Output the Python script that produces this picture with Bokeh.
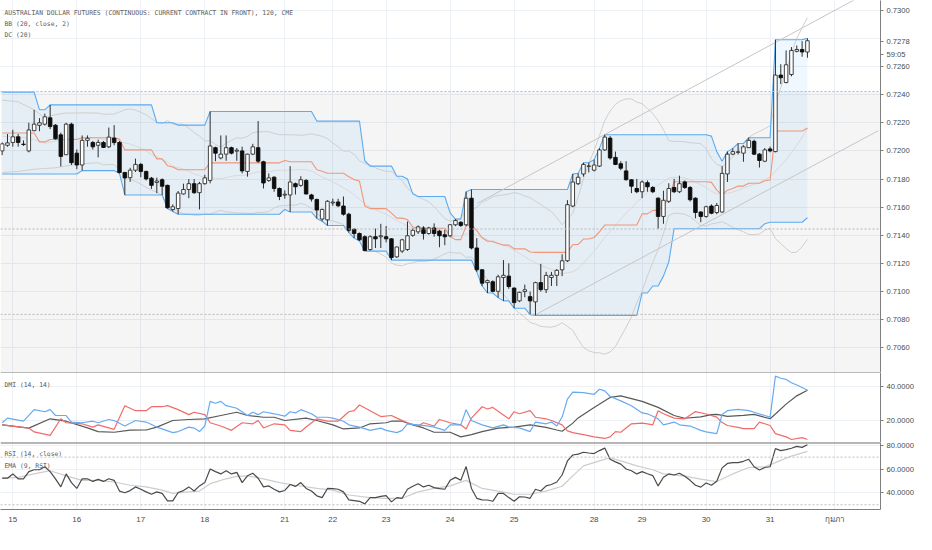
import numpy as np
import pandas as pd
from bokeh.plotting import figure
from bokeh.layouts import column
from bokeh.models import (Range1d, FixedTicker, Span, Label, PrintfTickFormatter,
                          ColumnDataSource, BoxAnnotation)
from bokeh.embed import file_html
from bokeh.resources import INLINE

# ---------------- data (2h bars) ----------------
opens = [0.72000, 0.72040, 0.72060, 0.72100, 0.72048, 0.72000, 0.72144, 0.72182, 0.72190, 0.72235,
         0.72183, 0.72114, 0.71973, 0.72190, 0.71984, 0.71900, 0.72075, 0.72060, 0.72040, 0.72060,
         0.72029, 0.72091, 0.72060, 0.71847, 0.71810, 0.71863, 0.71904, 0.71854, 0.71806, 0.71776,
         0.71795, 0.71755, 0.71584, 0.71590, 0.71694, 0.71726, 0.71767, 0.71703, 0.71767, 0.71790,
         0.72023, 0.71950, 0.71977, 0.72023, 0.71998, 0.72000, 0.71854, 0.71977, 0.72023, 0.71923,
         0.71790, 0.71813, 0.71733, 0.71686, 0.71687, 0.71767, 0.71755, 0.71790, 0.71687, 0.71655,
         0.71516, 0.71510, 0.71630, 0.71637, 0.71608, 0.71550, 0.71443, 0.71413, 0.71390, 0.71299,
         0.71390, 0.71390, 0.71390, 0.71375, 0.71247, 0.71288, 0.71299, 0.71400, 0.71425, 0.71452,
         0.71413, 0.71452, 0.71430, 0.71404, 0.71397, 0.71475, 0.71493, 0.71475, 0.71664, 0.71310,
         0.71155, 0.71064, 0.71070, 0.71002, 0.71100, 0.71110, 0.71025, 0.70934, 0.71000, 0.70964,
         0.70927, 0.71064, 0.71014, 0.71100, 0.71116, 0.71155, 0.71219, 0.71608, 0.71767, 0.71836,
         0.71890, 0.71863, 0.71892, 0.72007, 0.72091, 0.71954, 0.71909, 0.71858, 0.71795, 0.71733,
         0.71710, 0.71774, 0.71740, 0.71664, 0.71534, 0.71642, 0.71740, 0.71710, 0.71779, 0.71740,
         0.71664, 0.71566, 0.71534, 0.71608, 0.71562, 0.71566, 0.71836, 0.71977, 0.71990, 0.71984,
         0.72023, 0.72068, 0.71977, 0.71927, 0.72014, 0.71995, 0.72539, 0.72486, 0.72543, 0.72708,
         0.72721, 0.72703]
highs = [0.72060, 0.72120, 0.72150, 0.72120, 0.72075, 0.72200, 0.72292, 0.72233, 0.72265, 0.72327,
         0.72190, 0.72130, 0.72200, 0.72200, 0.72010, 0.72110, 0.72110, 0.72070, 0.72080, 0.72070,
         0.72166, 0.72183, 0.72070, 0.71850, 0.71880, 0.71945, 0.71915, 0.71860, 0.71815, 0.71810,
         0.71805, 0.71760, 0.71620, 0.71715, 0.71767, 0.71800, 0.71800, 0.71780, 0.71830, 0.72280,
         0.72030, 0.72110, 0.72110, 0.72030, 0.72020, 0.72030, 0.71980, 0.72050, 0.72212, 0.71930,
         0.71840, 0.71820, 0.71740, 0.71720, 0.71892, 0.71775, 0.71820, 0.71800, 0.71695, 0.71660,
         0.71590, 0.71650, 0.71660, 0.71660, 0.71676, 0.71560, 0.71450, 0.71420, 0.71400, 0.71400,
         0.71448, 0.71482, 0.71466, 0.71380, 0.71320, 0.71375, 0.71498, 0.71450, 0.71470, 0.71465,
         0.71460, 0.71485, 0.71440, 0.71440, 0.71480, 0.71515, 0.71500, 0.71710, 0.71726, 0.71380,
         0.71160, 0.71085, 0.71080, 0.71120, 0.71224, 0.71201, 0.71030, 0.71000, 0.71050, 0.71000,
         0.71070, 0.71197, 0.71140, 0.71140, 0.71160, 0.71265, 0.71650, 0.71836, 0.71840, 0.71916,
         0.71916, 0.71938, 0.72018, 0.72115, 0.72105, 0.71995, 0.71927, 0.71927, 0.71800, 0.71801,
         0.71790, 0.71790, 0.71750, 0.71670, 0.71717, 0.71770, 0.71801, 0.71824, 0.71790, 0.71750,
         0.71670, 0.71570, 0.71610, 0.71620, 0.71630, 0.71892, 0.71995, 0.72018, 0.72053, 0.72040,
         0.72094, 0.72080, 0.71985, 0.72020, 0.72030, 0.72790, 0.72616, 0.72714, 0.72738, 0.72749,
         0.72780, 0.72800]
lows = [0.71970, 0.72030, 0.72030, 0.72030, 0.72036, 0.71990, 0.72140, 0.72140, 0.72180, 0.72155,
        0.72080, 0.71890, 0.71970, 0.71900, 0.71870, 0.71860, 0.72030, 0.72010, 0.71954, 0.72020,
        0.72020, 0.72040, 0.71840, 0.71687, 0.71780, 0.71850, 0.71813, 0.71790, 0.71730, 0.71700,
        0.71687, 0.71590, 0.71570, 0.71550, 0.71690, 0.71664, 0.71695, 0.71584, 0.71760, 0.71770,
        0.71927, 0.71940, 0.71930, 0.71975, 0.71930, 0.71840, 0.71817, 0.71970, 0.71915, 0.71733,
        0.71780, 0.71710, 0.71650, 0.71660, 0.71566, 0.71690, 0.71745, 0.71690, 0.71640, 0.71520,
        0.71500, 0.71470, 0.71610, 0.71600, 0.71540, 0.71420, 0.71380, 0.71360, 0.71288, 0.71290,
        0.71310, 0.71310, 0.71350, 0.71224, 0.71240, 0.71275, 0.71290, 0.71390, 0.71410, 0.71370,
        0.71405, 0.71390, 0.71315, 0.71330, 0.71390, 0.71465, 0.71460, 0.71465, 0.71300, 0.71140,
        0.71040, 0.70990, 0.70995, 0.70957, 0.70934, 0.71020, 0.70882, 0.70925, 0.70960, 0.70836,
        0.70831, 0.71000, 0.70990, 0.71040, 0.71040, 0.71110, 0.71210, 0.71600, 0.71757, 0.71817,
        0.71847, 0.71854, 0.71886, 0.72000, 0.71938, 0.71899, 0.71863, 0.71790, 0.71700, 0.71699,
        0.71664, 0.71710, 0.71700, 0.71447, 0.71482, 0.71630, 0.71700, 0.71700, 0.71730, 0.71640,
        0.71521, 0.71493, 0.71525, 0.71550, 0.71550, 0.71560, 0.71779, 0.71970, 0.71975, 0.71923,
        0.72020, 0.71970, 0.71882, 0.71920, 0.71990, 0.71990, 0.72475, 0.72480, 0.72530, 0.72700,
        0.72669, 0.72662]
closes = [0.72050, 0.72057, 0.72100, 0.72060, 0.72045, 0.72149, 0.72190, 0.72200, 0.72242, 0.72173,
          0.72087, 0.71961, 0.72190, 0.71916, 0.71900, 0.72075, 0.72090, 0.72029, 0.72060, 0.72025,
          0.72098, 0.72059, 0.71847, 0.71808, 0.71863, 0.71904, 0.71854, 0.71801, 0.71755, 0.71786,
          0.71749, 0.71596, 0.71603, 0.71700, 0.71726, 0.71767, 0.71703, 0.71767, 0.71808, 0.72035,
          0.71984, 0.71977, 0.72023, 0.71984, 0.72005, 0.71858, 0.71977, 0.72029, 0.71927, 0.71772,
          0.71808, 0.71733, 0.71676, 0.71692, 0.71779, 0.71745, 0.71795, 0.71694, 0.71658, 0.71580,
          0.71584, 0.71642, 0.71636, 0.71610, 0.71550, 0.71436, 0.71413, 0.71368, 0.71292, 0.71390,
          0.71375, 0.71397, 0.71375, 0.71242, 0.71317, 0.71368, 0.71397, 0.71436, 0.71460, 0.71413,
          0.71452, 0.71413, 0.71397, 0.71390, 0.71475, 0.71505, 0.71470, 0.71664, 0.71310, 0.71155,
          0.71060, 0.71078, 0.71002, 0.71105, 0.71116, 0.71036, 0.70922, 0.70995, 0.71013, 0.70934,
          0.71064, 0.71014, 0.71115, 0.71116, 0.71151, 0.71219, 0.71618, 0.71779, 0.71813, 0.71904,
          0.71893, 0.71899, 0.72007, 0.72098, 0.71950, 0.71904, 0.71877, 0.71795, 0.71749, 0.71710,
          0.71779, 0.71745, 0.71710, 0.71534, 0.71649, 0.71733, 0.71710, 0.71767, 0.71740, 0.71653,
          0.71562, 0.71534, 0.71603, 0.71557, 0.71612, 0.71840, 0.71977, 0.71995, 0.71993, 0.72029,
          0.72075, 0.71977, 0.71932, 0.72007, 0.72000, 0.72539, 0.72520, 0.72612, 0.72714, 0.72721,
          0.72703, 0.72783]

# indicator values carried in from bars before the visible window
dc_up_warm = [0.72418, 0.72418, 0.72418, 0.72418, 0.72418, 0.72418, 0.72418]
dc_lo_warm = [0.71836, 0.71836, 0.71836, 0.71836, 0.71836, 0.71836, 0.71836, 0.71836,
              0.71836, 0.71836, 0.71836, 0.71836, 0.71836, 0.71836, 0.71836]
bb_warm_bars = [0, 3, 6, 8, 10, 12, 15, 18]
bb_up_warm = [0.72361, 0.72349, 0.72292, 0.72235, 0.72258, 0.72269, 0.72270, 0.72269]
bb_lo_warm = [0.71847, 0.71854, 0.71870, 0.71875, 0.71880, 0.71893, 0.71909, 0.71916]
bb_mid_warm = [0.72104, 0.72102, 0.72081, 0.72055, 0.72069, 0.72081, 0.72090, 0.72093]

# DMI (14,14)
pdi_bars = [0, 1, 4, 6, 8, 9, 10, 12, 13, 15, 17, 18, 20, 21, 23, 25, 27, 29, 32, 33, 35, 36, 37, 38, 39,
            40, 41, 42, 44, 46, 47, 48, 49, 51, 53, 54, 55, 56, 58, 59, 61, 62, 64, 65, 67, 69, 71, 72, 74,
            75, 76, 78, 80, 81, 83, 84, 86, 87, 88, 90, 92, 94, 95, 97, 99, 100, 102, 103, 104, 105, 106,
            107, 109, 111, 112, 113, 114, 116, 118, 120, 121, 123, 124, 126, 127, 129, 131, 132, 134, 135,
            136, 138, 140, 141, 143, 144, 145, 146, 147, 148, 149, 150, 151]
pdi_vals = [18.7, 21.4, 19.6, 26.3, 25.1, 26.3, 22.9, 22.9, 19.1, 18.7, 19.6, 18.7, 20.6, 20.0, 16.8, 20.0,
            19.1, 16.2, 13.0, 13.6, 16.2, 15.6, 13.6, 16.8, 31.1, 30.0, 31.1, 28.6, 27.1, 22.9, 24.8, 23.4,
            25.1, 23.9, 22.5, 25.1, 24.4, 26.3, 23.9, 21.9, 21.9, 21.4, 19.6, 17.5, 16.2, 14.3, 15.6, 14.3,
            13.0, 14.3, 18.1, 17.5, 16.8, 16.2, 14.3, 17.5, 17.5, 26.3, 20.0, 17.5, 15.7, 17.5, 16.2, 15.7,
            13.6, 19.1, 18.1, 19.1, 16.8, 22.0, 32.4, 36.4, 36.2, 35.2, 38.1, 37.2, 33.9, 31.4, 28.6, 24.4,
            23.9, 21.0, 17.5, 19.1, 17.5, 16.8, 14.3, 13.4, 12.4, 23.5, 25.7, 26.5, 25.7, 24.8, 22.9, 22.0,
            45.7, 44.5, 43.8, 41.9, 40.6, 39.1, 37.5]
mdi_bars = [0, 2, 5, 6, 9, 11, 12, 15, 17, 18, 21, 23, 25, 27, 28, 30, 31, 33, 35, 36, 38, 39, 41, 43, 45,
            47, 48, 49, 51, 53, 54, 56, 57, 59, 61, 63, 65, 66, 67, 69, 71, 73, 74, 76, 78, 79, 81, 82, 84,
            86, 87, 88, 90, 91, 92, 95, 96, 97, 99, 100, 102, 103, 105, 106, 107, 109, 111, 113, 114, 115,
            116, 118, 120, 121, 122, 123, 124, 126, 128, 130, 132, 134, 135, 136, 138, 139, 141, 142, 143,
            144, 145, 147, 148, 150, 151]
mdi_vals = [17.5, 16.8, 15.6, 13.4, 11.4, 21.0, 18.7, 18.1, 16.2, 17.5, 14.9, 28.6, 25.7, 25.7, 28.0, 28.0,
            28.6, 26.3, 23.4, 24.8, 23.4, 18.7, 16.8, 14.3, 18.7, 18.1, 20.0, 15.7, 18.1, 17.5, 14.3, 13.6,
            16.2, 21.0, 19.6, 19.6, 25.1, 25.7, 29.0, 25.7, 22.3, 22.9, 21.4, 18.7, 16.8, 18.7, 16.8, 20.6,
            18.7, 17.5, 15.1, 21.4, 28.0, 26.7, 27.6, 21.0, 25.1, 23.9, 25.7, 21.9, 21.0, 20.0, 17.5, 14.0,
            13.0, 11.8, 10.5, 9.6, 10.5, 13.6, 13.2, 18.1, 18.5, 18.1, 17.5, 25.7, 23.9, 21.4, 21.0, 25.2,
            23.8, 22.0, 18.8, 17.1, 16.0, 15.3, 15.3, 19.1, 18.1, 17.1, 12.4, 10.5, 9.0, 10.1, 9.0]
adx_bars = [0, 5, 9, 12, 16, 18, 21, 24, 27, 29, 32, 35, 38, 41, 44, 46, 49, 51, 53, 57, 59, 62, 64, 67, 69,
            72, 73, 75, 77, 79, 81, 84, 86, 88, 90, 93, 96, 99, 102, 104, 105, 107, 108, 111, 114, 116,
            120, 123, 126, 128, 131, 133, 134, 136, 139, 141, 144, 145, 147, 149, 151]
adx_vals = [17.5, 15.6, 21.0, 19.6, 15.7, 13.6, 13.2, 14.4, 14.5, 16.2, 20.0, 20.6, 21.0, 22.9, 24.8, 22.9,
            21.9, 21.9, 20.0, 21.4, 20.0, 17.5, 15.1, 15.7, 18.1, 18.7, 19.6, 19.6, 17.5, 15.7, 13.2, 13.2,
            10.5, 11.8, 13.6, 15.6, 16.2, 17.5, 16.0, 14.5, 13.8, 18.5, 21.5, 27.6, 33.4, 34.3, 31.1, 27.6,
            22.9, 21.3, 22.1, 23.4, 23.6, 22.4, 23.0, 23.6, 21.0, 23.8, 29.5, 34.3, 37.5]

# RSI (14, close), one value per bar
rsi_vals = [52.3, 52.3, 55.9, 51.8, 51.8, 57.8, 59.4, 59.4, 61.9, 57.8, 51.8, 45.0, 55.9, 48.6, 43.7, 51.8,
            51.8, 49.6, 51.3, 49.6, 51.8, 50.5, 41.5, 40.1, 41.9, 45.0, 43.0, 40.8, 38.8, 40.8, 39.5, 33.3,
            33.3, 40.3, 41.9, 45.0, 41.5, 45.8, 48.6, 60.0, 57.8, 55.9, 58.6, 55.9, 57.2, 48.6, 54.3, 56.5,
            52.3, 45.0, 45.8, 43.0, 40.8, 42.0, 47.0, 45.4, 48.6, 43.7, 41.5, 37.5, 36.0, 43.7, 43.5, 43.0,
            40.8, 34.1, 33.5, 32.9, 30.7, 36.0, 36.0, 37.0, 37.7, 32.4, 36.0, 35.4, 43.0, 45.5, 47.7, 45.0,
            46.4, 44.4, 43.5, 43.0, 50.5, 53.0, 50.5, 62.1, 43.7, 35.4, 34.1, 34.0, 32.9, 39.5, 39.5, 36.0,
            32.9, 36.7, 36.5, 35.4, 43.0, 41.5, 45.8, 47.0, 49.1, 55.0, 66.8, 71.8, 72.5, 74.1, 73.5, 73.0,
            75.5, 77.6, 68.2, 66.0, 64.1, 60.0, 58.6, 55.9, 57.8, 56.0, 54.5, 45.8, 53.1, 55.9, 55.0, 56.5,
            54.0, 50.5, 46.4, 44.8, 48.3, 46.4, 49.8, 61.0, 64.7, 65.4, 65.4, 66.5, 68.2, 61.9, 59.2, 61.3,
            61.9, 77.1, 75.5, 76.3, 77.5, 79.0, 78.2, 80.4]
# EMA (9, RSI)
ema_bars = [0, 3, 6, 9, 12, 15, 18, 21, 24, 27, 30, 32, 35, 37, 39, 42, 44, 46, 49, 52, 55, 59, 62, 65, 69,
            72, 75, 78, 81, 84, 87, 90, 93, 96, 99, 102, 105, 107, 109, 112, 114, 116, 119, 122, 124, 128,
            131, 134, 137, 140, 143, 145, 148, 151]
ema_vals = [52.3, 53.0, 55.9, 58.6, 54.3, 50.5, 50.5, 49.1, 46.4, 45.0, 42.3, 39.5, 40.8, 41.5, 47.7, 51.8,
            53.9, 54.3, 51.8, 48.6, 46.4, 43.7, 42.3, 38.2, 36.0, 35.4, 35.4, 40.8, 43.7, 45.8, 50.5, 43.7,
            41.5, 38.8, 38.8, 41.5, 45.5, 54.3, 62.7, 66.8, 69.5, 66.8, 62.7, 59.4, 55.9, 54.0, 51.5, 49.5,
            55.9, 61.3, 61.9, 65.4, 70.9, 74.9]

# drawings
level_prices = [0.72422, 0.71445, 0.70838]
trend_a_bars = [89.1, 164.3]
trend_a_prices = [0.71627, 0.73166]
trend_b_bars = [99.8, 164.3]
trend_b_prices = [0.70831, 0.72144]

# axes
day_tick_bars = [2, 14, 26, 38, 53, 62, 72, 84, 96, 111, 120, 132, 144, 156]
day_labels = ["15", "16", "17", "18", "21", "22", "23", "24", "25", "28", "29", "30", "31", "กุมภา"]
price_grid = [0.7060, 0.7080, 0.7100, 0.7120, 0.7140, 0.7160, 0.7180, 0.7200, 0.7220, 0.7240,
              0.7260, 0.7280, 0.7300]
price_axis = [0.7060, 0.7080, 0.7100, 0.7120, 0.7140, 0.7160, 0.7180, 0.7200, 0.7220, 0.7240,
              0.7260, 0.7300]
last_price_tick = 0.7278
last_price_text = "0.7278"
countdown_tick = 0.72683
countdown = "59:05"
dmi_ticks = [20, 40]
rsi_ticks = [40, 60, 80]
rsi_bands = [70, 30]

title_lines = ["AUSTRALIAN DOLLAR FUTURES (CONTINUOUS: CURRENT CONTRACT IN FRONT), 120, CME",
               "BB (20, close, 2)", "DC (20)"]

# ---------------- computed indicators ----------------
n = len(closes)
idx = np.arange(n)
o = np.array(opens); h = np.array(highs); l = np.array(lows); c = np.array(closes)
hs, ls, cs = pd.Series(h), pd.Series(l), pd.Series(c)
dc_up = hs.rolling(20, min_periods=1).max().to_numpy()
dc_lo = ls.rolling(20, min_periods=1).min().to_numpy()
dc_up[:len(dc_up_warm)] = dc_up_warm
dc_lo[:len(dc_lo_warm)] = dc_lo_warm
dc_mid = (dc_up + dc_lo) / 2

bb_mid_c = cs.rolling(20).mean().to_numpy()
bb_sd = cs.rolling(20).std(ddof=0).to_numpy()
bb_x = bb_warm_bars + list(range(19, n))
bb_u = bb_up_warm + list((bb_mid_c + 2 * bb_sd)[19:])
bb_l = bb_lo_warm + list((bb_mid_c - 2 * bb_sd)[19:])
bb_m = bb_mid_warm + list(bb_mid_c[19:])

# ---------------- layout constants ----------------
FW = 880
XR = Range1d(-0.31, 164.7)
AX_FONT = "Liberation Sans"
TXT_FONT = "DejaVu Sans Mono"
GRID = "#edf0f4"
px_x = (XR.end - XR.start) / FW


def base_fig(fh, yr, yticks, gticks, bottom_axis=False):
    p = figure(frame_width=FW, frame_height=fh, x_range=XR, y_range=yr,
               x_axis_location="below" if bottom_axis else None, y_axis_location="right",
               output_backend="svg", toolbar_location=None,
               min_border_left=0, min_border_right=36, min_border_top=0,
               min_border_bottom=24 if bottom_axis else 0)
    p.outline_line_color = None
    p.background_fill_color = "white"
    p.border_fill_color = "white"
    p.yaxis.ticker = FixedTicker(ticks=yticks)
    p.yaxis.formatter = PrintfTickFormatter(format="%.4f")
    p.yaxis.major_label_text_font = AX_FONT
    p.yaxis.major_label_text_font_size = "7.6px"
    p.yaxis.major_label_text_color = "#4a4a4a"
    p.yaxis.axis_line_color = "#7f7f7f"
    p.yaxis.major_tick_line_color = "#7f7f7f"
    p.yaxis.major_tick_out = 3
    p.yaxis.major_tick_in = 0
    p.yaxis.minor_tick_line_color = None
    p.yaxis.major_label_standoff = 3
    p.ygrid.ticker = FixedTicker(ticks=gticks)
    p.ygrid.grid_line_color = GRID
    p.xgrid.ticker = FixedTicker(ticks=day_tick_bars)
    p.xgrid.grid_line_color = GRID
    return p


def add_text(p, frame_h, yr, text, dy):
    py = (yr.end - yr.start) / frame_h
    p.add_layout(Label(x=XR.start + 4 * px_x, y=yr.end - dy * py, text=text,
                       text_font=TXT_FONT, text_font_size="6.4px", text_color="#5c5c5c",
                       text_baseline="middle", text_align="left"))


# ---------------- main price panel ----------------
MH = 372
yr1 = Range1d(0.70425, 0.73069)
p1 = base_fig(MH, yr1, price_axis + [last_price_tick, countdown_tick], price_grid)
p1.yaxis.major_label_overrides = {last_price_tick: last_price_text, countdown_tick: countdown}

p1.add_layout(BoxAnnotation(top=level_prices[0], fill_color="#000000", fill_alpha=0.04,
                            line_color=None, level="underlay"))
p1.varea(x=idx, y1=dc_lo, y2=dc_up, fill_color="#2196f3", fill_alpha=0.07)
for lv in level_prices:
    p1.add_layout(Span(location=lv, dimension="width", line_color="#b8b8b8",
                       line_dash="2 2", line_width=1))

p1.line(bb_x, bb_u, line_color="#cfcfcf", line_width=1)
p1.line(bb_x, bb_m, line_color="#d9d9d9", line_width=1)
p1.line(bb_x, bb_l, line_color="#cfcfcf", line_width=1)
p1.line(idx, dc_up, line_color="#5aabf2", line_width=1.1)
p1.line(idx, dc_lo, line_color="#5aabf2", line_width=1.1)
p1.line(idx, dc_mid, line_color="#f2967a", line_width=1.1)
p1.line(trend_a_bars, trend_a_prices, line_color="#c6c6c6", line_width=1)
p1.line(trend_b_bars, trend_b_prices, line_color="#c6c6c6", line_width=1)

top = np.maximum(o, c)
bot = np.minimum(o, c)
small = (top - bot) < 0.000015
top = np.where(small, bot + 0.000015, top)
up = c >= o
src = ColumnDataSource(dict(x=idx, h=h, l=l, top=top, bot=bot,
                            fill=np.where(up, "#ffffff", "#0d0d0d").tolist(),
                            line=np.where(up, "#2e2e2e", "#0d0d0d").tolist()))
p1.segment(x0="x", y0="l", x1="x", y1="h", source=src, line_color="#2e2e2e", line_width=1)
p1.vbar(x="x", width=0.66, top="top", bottom="bot", source=src,
        fill_color="fill", line_color="line", line_width=0.9)

for k, t in enumerate(title_lines):
    add_text(p1, MH, yr1, t, [12.5, 23.5, 34.0][k])

# ---------------- DMI panel ----------------
DH = 70
yr2 = Range1d(7.26, 47.83)
p2 = base_fig(DH, yr2, dmi_ticks, dmi_ticks)
p2.add_layout(Span(location=yr2.end, dimension="width", line_color="#777777", line_width=1.2))
p2.line(adx_bars, adx_vals, line_color="#585858", line_width=1.2)
p2.line(mdi_bars, mdi_vals, line_color="#f16c68", line_width=1.2)
p2.line(pdi_bars, pdi_vals, line_color="#67aaf0", line_width=1.2)
add_text(p2, DH, yr2, "DMI (14, 14)", 12)

# ---------------- RSI panel ----------------
RH = 67
yr3 = Range1d(26.0, 82.3)
p3 = base_fig(RH, yr3, rsi_ticks, rsi_ticks, bottom_axis=True)
p3.add_layout(Span(location=yr3.end, dimension="width", line_color="#6f6f6f", line_width=2))
for b in rsi_bands:
    p3.add_layout(Span(location=b, dimension="width", line_color="#bdbdbd",
                       line_dash="2 2", line_width=1))
p3.line(ema_bars, ema_vals, line_color="#cdcdcd", line_width=1.2)
p3.line(idx, rsi_vals, line_color="#4a4a4a", line_width=1.2)
add_text(p3, RH, yr3, "RSI (14, close)", 11.5)
add_text(p3, RH, yr3, "EMA (9, RSI)", 23)

p3.xaxis.ticker = FixedTicker(ticks=day_tick_bars)
p3.xaxis.major_label_overrides = {t: lab for t, lab in zip(day_tick_bars, day_labels)}
p3.xaxis.major_label_text_font = AX_FONT
p3.xaxis.major_label_text_font_size = "8px"
p3.xaxis.major_label_text_color = "#4a4a4a"
p3.xaxis.axis_line_color = "#7f7f7f"
p3.xaxis.major_tick_out = 0
p3.xaxis.major_tick_in = 0
p3.xaxis.minor_tick_line_color = None
p3.xaxis.major_label_standoff = 5

layout = column(p1, p2, p3, spacing=0)
open("out.html", "w").write(file_html(layout, INLINE, "AUD futures"))
